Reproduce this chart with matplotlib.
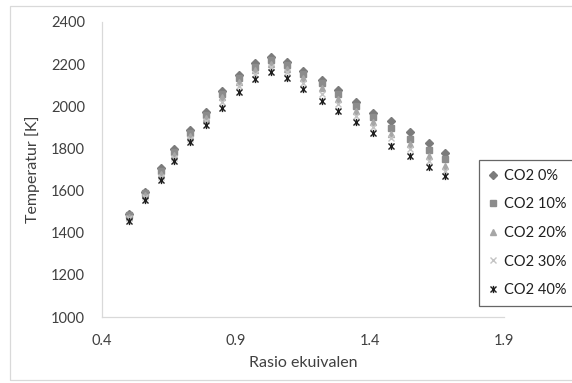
import numpy as np
import matplotlib
matplotlib.use("Agg")
import matplotlib.pyplot as plt
from matplotlib.path import Path
from matplotlib.patches import Rectangle

plt.rcParams['font.family'] = ['Lato', 'DejaVu Sans']

# rasio ekuivalen (x) and temperature per CO2 fraction
rasio = [0.50, 0.56, 0.62, 0.67, 0.73, 0.79, 0.85, 0.91, 0.97, 1.03,
         1.09, 1.15, 1.22, 1.28, 1.35, 1.41, 1.48, 1.55, 1.62, 1.68]
co2_0 = [1490, 1595, 1705, 1795, 1885, 1972, 2072, 2148, 2205, 2232,
         2210, 2167, 2125, 2078, 2022, 1970, 1928, 1876, 1826, 1780]
co2_10 = [1484, 1587, 1692, 1782, 1872, 1958, 2058, 2132, 2188, 2218,
          2195, 2152, 2108, 2058, 2002, 1950, 1898, 1845, 1792, 1750]
co2_20 = [1477, 1578, 1680, 1770, 1858, 1945, 2042, 2115, 2172, 2200,
          2178, 2132, 2085, 2035, 1975, 1925, 1870, 1820, 1762, 1718]
co2_30 = [1468, 1568, 1666, 1756, 1845, 1928, 2022, 2095, 2155, 2185,
          2160, 2110, 2060, 2010, 1952, 1900, 1848, 1795, 1740, 1695]
co2_40 = [1455, 1555, 1650, 1740, 1830, 1910, 1990, 2065, 2130, 2160,
          2136, 2080, 2027, 1975, 1925, 1875, 1812, 1765, 1714, 1668]

labels = ['CO2 0%', 'CO2 10%', 'CO2 20%', 'CO2 30%', 'CO2 40%']

# excel style star marker: x with a vertical bar
star = Path([(-1, -1), (1, 1), (-1, 1), (1, -1), (0, -1.2), (0, 1.2)],
            [Path.MOVETO, Path.LINETO, Path.MOVETO, Path.LINETO,
             Path.MOVETO, Path.LINETO])

fig = plt.figure(figsize=(5.72, 3.83), dpi=100)
ax = fig.add_axes([0.178, 0.172, 0.703, 0.771])

ax.plot(rasio, co2_0, 'D', color='#7b7b7b', ms=4.0, label=labels[0], zorder=3)
ax.plot(rasio, co2_10, 's', color='#8c8c8c', ms=4.8, label=labels[1], zorder=3)
ax.plot(rasio, co2_20, '^', color='#a6a6a6', ms=4.8, label=labels[2], zorder=3)
ax.plot(rasio, co2_30, 'x', color='#c4c4c4', ms=4.3, mew=1.0, label=labels[3], zorder=3)
ax.plot(rasio, co2_40, linestyle='none', marker=star, color='#1e1e1e', ms=5.2,
        mew=1.0, label=labels[4], zorder=3)

ax.set_xlim(0.4, 1.9)
ax.set_ylim(1000, 2400)
ax.set_xticks([0.4, 0.9, 1.4, 1.9])
ax.set_xticklabels(['0.4', '0.9', '1.4', '1.9'])
ax.set_yticks(np.arange(1000, 2401, 200))
ax.tick_params(length=0, labelsize=10.5, colors='#404040')
ax.tick_params(axis='y', pad=12)
ax.tick_params(axis='x', pad=12)

for s in ['top', 'right']:
    ax.spines[s].set_visible(False)
for s in ['left', 'bottom']:
    ax.spines[s].set_color('#d9d9d9')
    ax.spines[s].set_linewidth(0.9)

ax.set_xlabel('Rasio ekuivalen', fontsize=11.5, color='#404040', labelpad=6)
ax.set_ylabel('Temperatur [K]', fontsize=11.5, color='#404040', labelpad=8)

leg = ax.legend(loc='upper left', bbox_to_anchor=(479 / 572, 1 - 160 / 383),
                bbox_transform=fig.transFigure, fontsize=10.5, frameon=True,
                fancybox=False, edgecolor='#404040', handlelength=0.7,
                handletextpad=0.4, labelspacing=1.0, borderpad=0.6,
                borderaxespad=0)
leg.get_frame().set_linewidth(0.9)
for t in leg.get_texts():
    t.set_color('#202020')

# chart area border
fig.patches.append(Rectangle((10 / 572, 3 / 383), 1.2, 1 - 9 / 383,
                             transform=fig.transFigure, fill=False,
                             edgecolor='#d9d9d9', linewidth=0.9))

fig.savefig('out.png', dpi=100)
